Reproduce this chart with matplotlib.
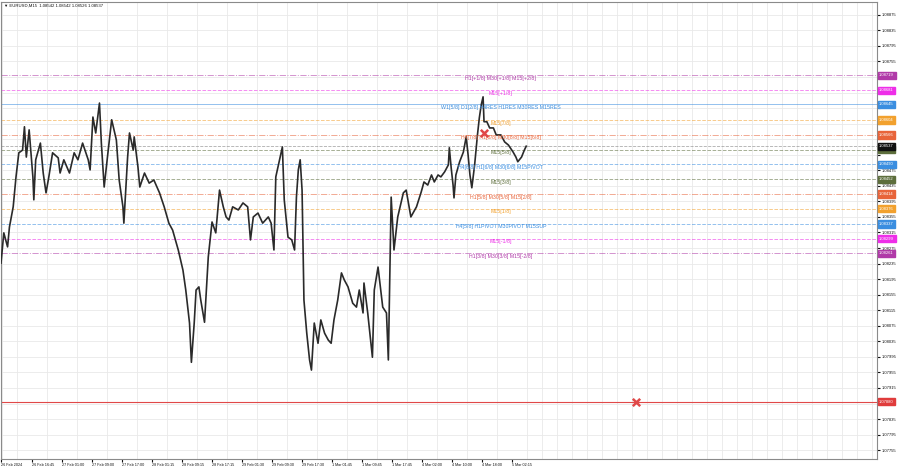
import matplotlib
matplotlib.use("Agg")
import numpy as np
import matplotlib.pyplot as plt
import matplotlib.transforms as mtransforms

# EURUSD M15 price path (bar number from the left edge, price)
bars = [0, 3, 7, 9, 13, 16, 19, 23, 25, 27, 30, 34, 35, 37, 42, 45, 48, 51, 55, 61,
        63, 67, 73, 78, 82, 87, 93, 95, 98, 101, 105, 107, 110, 114, 118, 123, 126, 130, 131, 135,
        137, 141, 142, 146, 148, 153, 158, 163, 169, 174, 179, 183, 189, 194, 197, 201, 203, 206, 208, 211,
        213, 217, 221, 225, 229, 233, 237, 240, 243, 247, 253, 258, 263, 266, 269, 274, 279, 285, 288, 291,
        293, 297, 300, 302, 306, 310, 313, 315, 317, 319, 321, 323, 326, 329, 331, 334, 338, 341, 345, 349,
        352, 355, 359, 363, 366, 370, 375, 379, 382, 386, 387, 391, 396, 398, 402, 407, 411, 413, 416, 419,
        423, 429, 432, 437, 443, 448, 451, 455, 459, 462, 466, 469, 473, 477, 478, 480, 482, 483, 485, 489,
        493, 496, 498, 500, 502, 505, 508, 510, 512, 514, 515, 518, 521, 525, 528, 533, 537, 541, 546, 549,
        551, 555, 558, 560]
prices = [1.08236, 1.08314, 1.08278, 1.08329, 1.08381, 1.08458, 1.08520, 1.08527, 1.08587, 1.08509,
          1.08579, 1.08458, 1.08399, 1.08502, 1.08545, 1.08468, 1.08417, 1.08458, 1.08520, 1.08507,
          1.08468, 1.08502, 1.08468, 1.08520, 1.08502, 1.08545, 1.08502, 1.08476, 1.08612, 1.08571,
          1.08648, 1.08545, 1.08432, 1.08520, 1.08605, 1.08553, 1.08450, 1.08381, 1.08339, 1.08509,
          1.08571, 1.08527, 1.08561, 1.08484, 1.08432, 1.08468, 1.08442, 1.08450, 1.08417, 1.08381,
          1.08339, 1.08321, 1.08270, 1.08218, 1.08167, 1.08082, 1.07981, 1.08082, 1.08167, 1.08175,
          1.08141, 1.08084, 1.08252, 1.08342, 1.08314, 1.08424, 1.08381, 1.08355, 1.08347, 1.08381,
          1.08373, 1.08391, 1.08381, 1.08296, 1.08355, 1.08365, 1.08339, 1.08355, 1.08339, 1.08270,
          1.08458, 1.08502, 1.08535, 1.08399, 1.08303, 1.08296, 1.08270, 1.08406, 1.08476, 1.08502,
          1.08424, 1.08141, 1.08056, 1.07987, 1.07961, 1.08082, 1.08030, 1.08090, 1.08056, 1.08038,
          1.08030, 1.08090, 1.08141, 1.08211, 1.08193, 1.08175, 1.08133, 1.08123, 1.08167, 1.08108,
          1.08185, 1.08108, 1.07994, 1.08167, 1.08226, 1.08123, 1.08108, 1.07987, 1.08406, 1.08270,
          1.08355, 1.08417, 1.08424, 1.08355, 1.08381, 1.08419, 1.08445, 1.08437, 1.08463, 1.08445,
          1.08463, 1.08458, 1.08471, 1.08489, 1.08533, 1.08481, 1.08437, 1.08404, 1.08463, 1.08497,
          1.08522, 1.08561, 1.08515, 1.08463, 1.08430, 1.08489, 1.08566, 1.08610, 1.08643, 1.08664,
          1.08600, 1.08600, 1.08584, 1.08584, 1.08566, 1.08566, 1.08548, 1.08540, 1.08522, 1.08509,
          1.08497, 1.08509, 1.08527, 1.08537]

time_labels = ["26 Feb 2024", "26 Feb 16:45", "27 Feb 01:00", "27 Feb 09:00", "27 Feb 17:00",
               "28 Feb 01:15", "28 Feb 09:15", "28 Feb 17:15", "29 Feb 01:30", "29 Feb 09:30",
               "29 Feb 17:30", "1 Mar 01:45", "1 Mar 09:45", "1 Mar 17:45", "4 Mar 02:00",
               "4 Mar 10:00", "4 Mar 18:00", "5 Mar 02:15"]
time_ticks = [0] + [33 + 32 * k for k in range(len(time_labels) - 1)]

# murrey math levels drawn on the chart
level_prices = [1.08719, 1.08681, 1.08645, 1.08604, 1.08566, 1.08528, 1.08490,
                1.08452, 1.08414, 1.08376, 1.08337, 1.08299, 1.08261]
level_names = ["H1[+1/8] M30[+1/8] M15[+2/8]", "M15[+1/8]",
               "W1[5/8] D1[2/8] H4RES H1RES M30RES M15RES", "M15[7/8]",
               "H4[7/8] H1[8/8] M30[8/8] M15[6/8]", "M15[5/8]",
               "H4[6/8] H1[6/8] M30[6/8] M15PIVOT", "M15[3/8]",
               "H1[5/8] M30[5/8] M15[2/8]", "M15[1/8]",
               "H4[5/8] H1PIVOT M30PIVOT M15SUP", "M15[-1/8]",
               "H1[3/8] M30[3/8] M15[-2/8]"]
level_colors = ["#b03aa8", "#ee2ee8", "#3a8ee0", "#f2a12e", "#e8643a", "#5d6e3c", "#3a8ee0",
                "#5d6e3c", "#e8643a", "#f2a12e", "#3a8ee0", "#ee2ee8", "#b03aa8"]
level_styles = ["-.", "--", "-", "--", "-.", "--", "--", "--", "-.", "--", "--", "--", "-."]

bid_price = 1.08537
stop_price = 1.07880
x_marks_bar = [515, 677]
x_marks_price = [1.08571, 1.07880]

plt.rcParams['font.family'] = ['Liberation Sans', 'DejaVu Sans']
fig = plt.figure(figsize=(9, 4.68), dpi=100)
ax = fig.add_axes([1 / 900, 1 - 458.5 / 468, 876 / 900, 456.5 / 468])
ax.set_xlim(0, 934)
ax.set_ylim(1.077335, 1.08908)

box_prices = level_prices + [bid_price, stop_price]

# grid
ax.set_xticks(np.arange(1, 934, 16), minor=True)
ax.grid(which='minor', axis='x', color='#e9e9e9', lw=0.6)
price_ticks = np.round(np.arange(1.07755, 1.08876, 0.0004), 5)
ax.set_yticks(price_ticks)
# labels hidden behind the coloured price boxes are left blank
ax.set_yticklabels(["" if min(abs(p - b) for b in box_prices) < 0.00013 else "%.5f" % p
                    for p in price_ticks])
ax.grid(which='major', axis='y', color='#e9e9e9', lw=0.6)
ax.set_axisbelow(True)

ax.set_xticks(time_ticks)
ax.set_xticklabels(time_labels, ha='left')
ax.tick_params(axis='x', which='major', labelsize=2.7, length=2, pad=1.5, colors='#111')
ax.tick_params(axis='x', which='minor', length=0)
ax.yaxis.tick_right()
ax.tick_params(axis='y', labelsize=3.0, length=2, pad=1.5, colors='#111')
for s in ax.spines.values():
    s.set_color('#8a8a8a')
    s.set_linewidth(0.8)

blend = mtransforms.blended_transform_factory(ax.transAxes, ax.transData)


def price_box(p, c):
    ax.text(1.0025, p, "%.5f" % p, transform=blend, ha='left', va='center', fontsize=3.0,
            color='white', clip_on=False, zorder=6,
            bbox=dict(boxstyle='square,pad=0.4', fc=c, ec=c))


# levels
for p, name, c, ls in zip(level_prices, level_names, level_colors, level_styles):
    ax.axhline(p, color=c, ls=ls, lw=0.7, alpha=0.55, zorder=1)
    ax.annotate(name, (533, p), xytext=(0, -2.2), textcoords='offset points',
                ha='center', va='center', fontsize=3.8, color=c, zorder=4)
    price_box(p, c)

ax.axhline(bid_price, color='#777777', ls='--', lw=0.6, alpha=0.6, zorder=1)
price_box(bid_price, '#111111')

ax.axhline(stop_price, color='#e04848', lw=0.8, zorder=1)
price_box(stop_price, '#e03c3c')

# price
ax.plot(bars, prices, color='#2a2a2a', lw=1.2, zorder=3)
ax.scatter(x_marks_bar, x_marks_price, marker='x', s=28, linewidths=1.8, color='#e04848', zorder=5)

fig.text(4 / 900, 1 - 6 / 468, "\u25bc EURUSD,M15  1.08542 1.08542 1.08526 1.08537",
         fontsize=3.1, va='center', ha='left', color='#111')

fig.savefig('out.png', dpi=100)
